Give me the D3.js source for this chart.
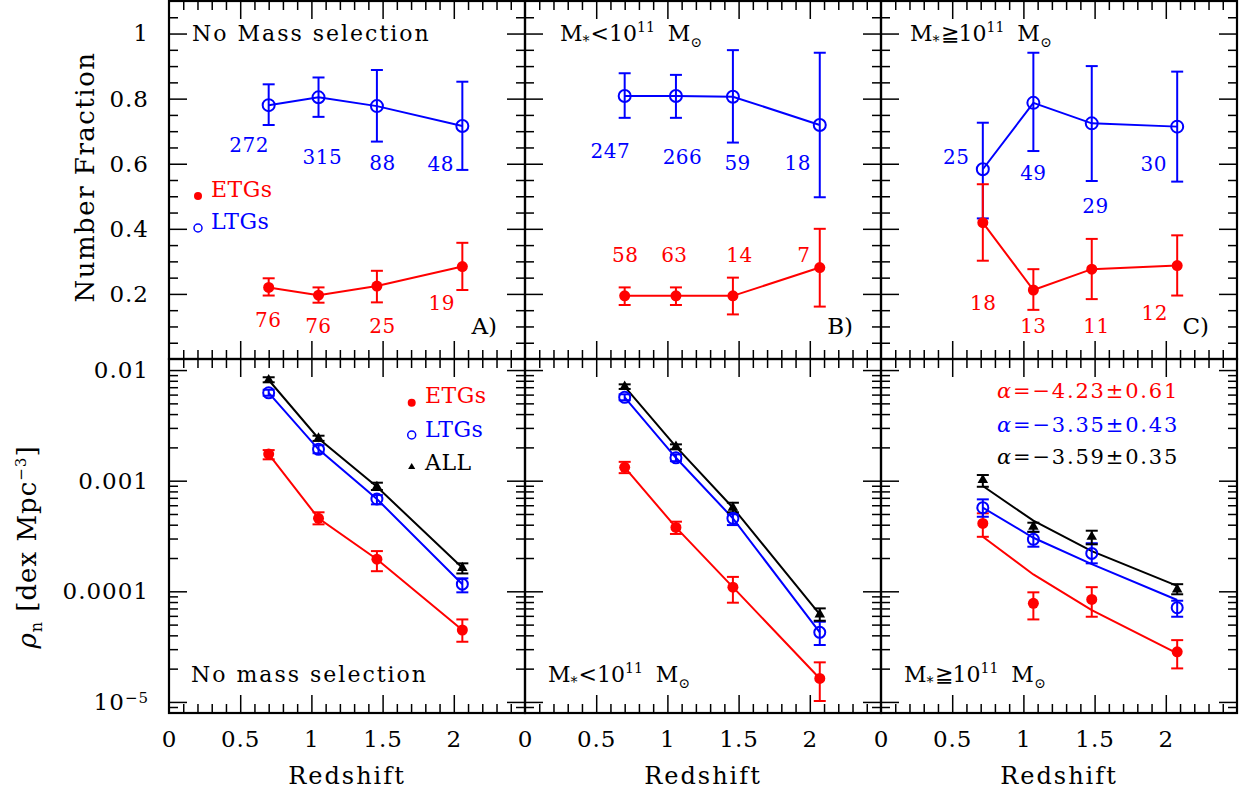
<!DOCTYPE html>
<html><head><meta charset="utf-8">
<script src="https://cdn.jsdelivr.net/npm/d3@7"></script>
<style>
body{margin:0;background:#fff;}
svg text{font-family:"DejaVu Serif","Liberation Serif",serif;fill:#000;}
</style></head><body>
<svg id="c" width="1240" height="794"></svg>
<script>
// ------------------------- DATA -------------------------
const zA = [0.70, 1.05, 1.46, 2.06];
const zB = [0.70, 1.06, 1.46, 2.07];
const zC = [0.715, 1.07, 1.48, 2.08];

// number fractions (top row)
const fracLtgA   = [0.780, 0.804, 0.777, 0.716];
const fracLtgLoA = [0.719, 0.744, 0.668, 0.581];
const fracLtgHiA = [0.844, 0.865, 0.888, 0.852];
const fracEtgA   = [0.220, 0.196, 0.224, 0.284];
const fracEtgLoA = [0.195, 0.173, 0.174, 0.212];
const fracEtgHiA = [0.248, 0.220, 0.271, 0.357];

const fracLtgB   = [0.808, 0.808, 0.806, 0.719];
const fracLtgLoB = [0.741, 0.741, 0.665, 0.497];
const fracLtgHiB = [0.878, 0.873, 0.949, 0.941];
const fracEtgB   = [0.194, 0.194, 0.194, 0.281];
const fracEtgLoB = [0.166, 0.166, 0.137, 0.161];
const fracEtgHiB = [0.220, 0.220, 0.250, 0.400];

const fracLtgC   = [0.583, 0.787, 0.724, 0.714];
const fracLtgLoC = [0.432, 0.639, 0.547, 0.545];
const fracLtgHiC = [0.726, 0.941, 0.900, 0.883];
const fracEtgC   = [0.419, 0.212, 0.276, 0.287];
const fracEtgLoC = [0.302, 0.151, 0.184, 0.195];
const fracEtgHiC = [0.537, 0.276, 0.369, 0.380];

// galaxy counts
const nLtgA = [272, 315, 88, 48];  const nEtgA = [76, 76, 25, 19];
const nLtgB = [247, 266, 59, 18];  const nEtgB = [58, 63, 14, 7];
const nLtgC = [25, 49, 29, 30];    const nEtgC = [18, 13, 11, 12];

// count-label anchors in data coordinates (redshift, fraction)
const nLtgAtA = [[0.563,0.657],[1.077,0.621],[1.500,0.602],[1.908,0.599]];
const nEtgAtA = [[0.697,0.120],[1.049,0.101],[1.500,0.101],[1.915,0.172]];
const nLtgAtB = [[0.599,0.639],[1.106,0.621],[1.493,0.602],[1.915,0.602]];
const nEtgAtB = [[0.704,0.320],[1.049,0.320],[1.507,0.320],[1.958,0.320]];
const nLtgAtC = [[0.528,0.621],[1.070,0.571],[1.507,0.470],[1.915,0.599]];
const nEtgAtC = [[0.718,0.172],[1.070,0.101],[1.514,0.101],[1.923,0.141]];

// number densities (bottom row), dex^-1 Mpc^-3
const rhoAllA   = [0.00813, 0.00241, 0.000881, 0.000163];
const rhoAllLoA = [0.00775, 0.00229, 0.000824, 0.000145];
const rhoAllHiA = [0.00861, 0.00255, 0.000959, 0.000179];
const rhoLtgA   = [0.00623, 0.00192, 0.000683, 0.000116];
const rhoLtgLoA = [0.00586, 0.00177, 0.000611, 0.0000979];
const rhoLtgHiA = [0.00664, 0.00209, 0.000741, 0.000131];
const rhoEtgA   = [0.00174, 0.000457, 0.000195, 0.0000447];
const rhoEtgLoA = [0.00156, 0.000403, 0.000152, 0.0000350];
const rhoEtgHiA = [0.00189, 0.000518, 0.000231, 0.0000557];

const rhoAllB   = [0.00708, 0.00203, 0.000570, 0.0000618];
const rhoAllLoB = [0.00675, 0.00192, 0.000518, 0.0000542];
const rhoAllHiB = [0.00743, 0.00213, 0.000632, 0.0000701];
const rhoLtgB   = [0.00567, 0.00161, 0.000457, 0.0000426];
const rhoLtgLoB = [0.00533, 0.00150, 0.000397, 0.0000327];
const rhoLtgHiB = [0.00604, 0.00173, 0.000497, 0.0000531];
const rhoEtgB   = [0.00132, 0.000378, 0.000109, 0.0000163];
const rhoEtgLoB = [0.00117, 0.000330, 0.0000789, 0.0000102];
const rhoEtgHiB = [0.00148, 0.000426, 0.000135, 0.0000228];

const rhoAllC   = [0.001014, 0.000384, 0.000311, 0.000104];
const rhoAllLoC = [0.000881, 0.000345, 0.000266, 0.0000940];
const rhoAllHiC = [0.001125, 0.000417, 0.000353, 0.000116];
const rhoLtgC   = [0.000570, 0.000295, 0.000220, 0.0000711];
const rhoLtgLoC = [0.000472, 0.000253, 0.000179, 0.0000589];
const rhoLtgHiC = [0.000678, 0.000345, 0.000272, 0.0000822];
const rhoEtgC   = [0.000411, 0.0000779, 0.0000845, 0.0000284];
const rhoEtgLoC = [0.000311, 0.0000557, 0.0000589, 0.0000201];
const rhoEtgHiC = [0.000507, 0.0000979, 0.000109, 0.0000362];
// power-law fit curves in panel C
const fitAllC = [0.000895, 0.000435, 0.000231, 0.000112];
const fitLtgC = [0.000570, 0.000305, 0.000176, 0.0000834];
const fitEtgC = [0.000311, 0.000142, 0.0000676, 0.0000275];

const alphaVal = ["−4.23", "−3.35", "−3.59"];
const alphaErr = ["0.61", "0.43", "0.35"];

const xTicks = [0, 0.5, 1, 1.5, 2];
const xTickLabels = ["0", "0.5", "1", "1.5", "2"];
const fracTicks = [0.2, 0.4, 0.6, 0.8, 1];
const fracTickLabels = ["0.2", "0.4", "0.6", "0.8", "1"];
const rhoTicks = [1e-2, 1e-3, 1e-4, 1e-5];
const rhoTickLabels = ["0.01", "0.001", "0.0001", "10^−5"];

const panelLetters = ["A)", "B)", "C)"];

// ------------------------- LAYOUT -------------------------
const RED = "#ff0000", BLUE = "#0000ff", BLACK = "#000000";
const svg = d3.select("#c");
const colX = [169, 525, 881], panelW = 356;
const topRow = [359, 1], botRow = [713, 359];

const columns = [
  {z: zA, fl: fracLtgA, flLo: fracLtgLoA, flHi: fracLtgHiA, fe: fracEtgA, feLo: fracEtgLoA, feHi: fracEtgHiA,
   nl: nLtgA, ne: nEtgA, nlAt: nLtgAtA, neAt: nEtgAtA,
   ra: rhoAllA, raLo: rhoAllLoA, raHi: rhoAllHiA, rl: rhoLtgA, rlLo: rhoLtgLoA, rlHi: rhoLtgHiA,
   re: rhoEtgA, reLo: rhoEtgLoA, reHi: rhoEtgHiA, la: rhoAllA, ll: rhoLtgA, le: rhoEtgA},
  {z: zB, fl: fracLtgB, flLo: fracLtgLoB, flHi: fracLtgHiB, fe: fracEtgB, feLo: fracEtgLoB, feHi: fracEtgHiB,
   nl: nLtgB, ne: nEtgB, nlAt: nLtgAtB, neAt: nEtgAtB,
   ra: rhoAllB, raLo: rhoAllLoB, raHi: rhoAllHiB, rl: rhoLtgB, rlLo: rhoLtgLoB, rlHi: rhoLtgHiB,
   re: rhoEtgB, reLo: rhoEtgLoB, reHi: rhoEtgHiB, la: rhoAllB, ll: rhoLtgB, le: rhoEtgB},
  {z: zC, fl: fracLtgC, flLo: fracLtgLoC, flHi: fracLtgHiC, fe: fracEtgC, feLo: fracEtgLoC, feHi: fracEtgHiC,
   nl: nLtgC, ne: nEtgC, nlAt: nLtgAtC, neAt: nEtgAtC,
   ra: rhoAllC, raLo: rhoAllLoC, raHi: rhoAllHiC, rl: rhoLtgC, rlLo: rhoLtgLoC, rlHi: rhoLtgHiC,
   re: rhoEtgC, reLo: rhoEtgLoC, reHi: rhoEtgHiC, la: fitAllC, ll: fitLtgC, le: fitEtgC}
];

const xMinor = d3.range(1, 25).map(i => +(i * 0.1).toFixed(2)).filter(v => Math.abs(v * 2 - Math.round(v * 2)) > 1e-6);
const xMajor = [0.5, 1, 1.5, 2];
const fMinor = d3.range(1, 22).map(i => +(i * 0.05).toFixed(3)).filter(v => Math.abs(v * 5 - Math.round(v * 5)) > 1e-6);
const rMinor = [];
for (let k = -6; k <= -2; k++) for (let m = 2; m <= 9; m++) { const v = m * Math.pow(10, k); if (v > Math.pow(10, -5.1) && v < Math.pow(10, -1.9)) rMinor.push(v); }

const MINOR = 9, MAJOR = 18, TICKW = 1.5;

function styleAxis(a) {
  a.select(".domain").remove();
  a.attr("font-size", null).attr("font-family", null);
  a.selectAll("line").attr("stroke", "#000").attr("stroke-width", TICKW);
  a.selectAll("text").style("font-size", "23px").style("letter-spacing", "1px").attr("fill", "#000");
  return a;
}

function drawAxes(g, x, y, yMajor, yMinor, showX, yLabelFn) {
  const [x0, x1] = x.range(), [yb, yt] = y.range();
  // bottom
  styleAxis(g.append("g").attr("transform", `translate(0,${yb})`)
    .call(d3.axisBottom(x).tickValues(xMinor).tickSize(-MINOR).tickFormat("")));
  const bm = styleAxis(g.append("g").attr("transform", `translate(0,${yb})`)
    .call(d3.axisBottom(x).tickValues(showX ? xTicks : xMajor).tickSize(-MAJOR).tickPadding(18)
      .tickFormat(showX ? (d => xTickLabels[xTicks.indexOf(d)]) : "")));
  if (showX) bm.selectAll("line").filter(d => d === 0).remove();
  // top
  styleAxis(g.append("g").attr("transform", `translate(0,${yt})`)
    .call(d3.axisTop(x).tickValues(xMinor).tickSize(-MINOR).tickFormat("")));
  styleAxis(g.append("g").attr("transform", `translate(0,${yt})`)
    .call(d3.axisTop(x).tickValues(xMajor).tickSize(-MAJOR).tickFormat("")));
  // left
  styleAxis(g.append("g").attr("transform", `translate(${x0},0)`)
    .call(d3.axisLeft(y).tickValues(yMinor).tickSize(-MINOR).tickFormat("")));
  const lm = styleAxis(g.append("g").attr("transform", `translate(${x0},0)`)
    .call(d3.axisLeft(y).tickValues(yMajor).tickSize(-MAJOR).tickPadding(20)
      .tickFormat(yLabelFn ? yLabelFn : "")));
  // right
  styleAxis(g.append("g").attr("transform", `translate(${x1},0)`)
    .call(d3.axisRight(y).tickValues(yMinor).tickSize(-MINOR).tickFormat("")));
  styleAxis(g.append("g").attr("transform", `translate(${x1},0)`)
    .call(d3.axisRight(y).tickValues(yMajor).tickSize(-MAJOR).tickFormat("")));
  return lm;
}

function errorBars(g, x, y, z, lo, hi, color) {
  const cap = 6;
  z.forEach((zz, i) => {
    const cx = x(zz);
    g.append("line").attr("x1", cx).attr("x2", cx).attr("y1", y(lo[i])).attr("y2", y(hi[i]))
      .attr("stroke", color).attr("stroke-width", 2);
    [lo[i], hi[i]].forEach(v => g.append("line").attr("x1", cx - cap).attr("x2", cx + cap)
      .attr("y1", y(v)).attr("y2", y(v)).attr("stroke", color).attr("stroke-width", 2));
  });
}
function polyline(g, x, y, z, vals, color) {
  g.append("path").attr("d", d3.line().x((d, i) => x(z[i])).y(d => y(d))(vals))
    .attr("fill", "none").attr("stroke", color).attr("stroke-width", 2);
}
function filledDots(g, x, y, z, vals, r) {
  g.selectAll(null).data(vals).join("circle").attr("cx", (d, i) => x(z[i])).attr("cy", d => y(d))
    .attr("r", r).attr("fill", RED);
}
function openDots(g, x, y, z, vals, r) {
  g.selectAll(null).data(vals).join("circle").attr("cx", (d, i) => x(z[i])).attr("cy", d => y(d))
    .attr("r", r).attr("fill", "none").attr("stroke", BLUE).attr("stroke-width", 2);
}
function triangles(g, x, y, z, vals, size) {
  g.selectAll(null).data(vals).join("path").attr("d", d3.symbol(d3.symbolTriangle, size))
    .attr("transform", (d, i) => `translate(${x(z[i])},${y(d)})`).attr("fill", BLACK);
}

function massTitle(g, x, yBase, sym) {
  const t = g.append("text").attr("x", x).attr("y", yBase).style("font-size", "22px");
  t.append("tspan").text("M");
  t.append("tspan").text("*").attr("dy", 5).style("font-size", "14px");
  t.append("tspan").text(sym).attr("dy", -5).attr("dx", 1).style("font-size", "22px");
  t.append("tspan").text("10");
  t.append("tspan").text("11").attr("dy", -9).style("font-size", "14px");
  t.append("tspan").text("M").attr("dy", 9).attr("dx", 13).style("font-size", "22px");
  t.append("tspan").text("⊙").attr("dy", 6).style("font-size", "14px");
}

columns.forEach((c, ci) => {
  const x = d3.scaleLinear().domain([0, 2.5]).range([colX[ci], colX[ci] + panelW]);
  const yF = d3.scaleLinear().domain([0, 1.1]).range(topRow);
  const yR = d3.scaleLog().domain([Math.pow(10, -5.1), Math.pow(10, -1.9)]).range(botRow);
  const x0 = colX[ci], x1 = colX[ci] + panelW;

  // ---------- top panel ----------
  const gt = svg.append("g");
  drawAxes(gt, x, yF, fracTicks, fMinor, false,
    ci === 0 ? (d => fracTickLabels[fracTicks.indexOf(d)]) : null);
  polyline(gt, x, yF, c.z, c.fl, BLUE);
  polyline(gt, x, yF, c.z, c.fe, RED);
  errorBars(gt, x, yF, c.z, c.flLo, c.flHi, BLUE);
  errorBars(gt, x, yF, c.z, c.feLo, c.feHi, RED);
  openDots(gt, x, yF, c.z, c.fl, 6);
  filledDots(gt, x, yF, c.z, c.fe, 5.5);
  c.nl.forEach((n, i) => gt.append("text").attr("x", x(c.nlAt[i][0])).attr("y", yF(c.nlAt[i][1]) + 7.3)
    .attr("text-anchor", "middle").style("font-size", "20px").style("letter-spacing", "0.5px")
    .attr("fill", BLUE).style("fill", BLUE).text(n));
  c.ne.forEach((n, i) => gt.append("text").attr("x", x(c.neAt[i][0])).attr("y", yF(c.neAt[i][1]) + 7.3)
    .attr("text-anchor", "middle").style("font-size", "20px").style("letter-spacing", "0.5px")
    .style("fill", RED).text(n));
  gt.append("text").attr("x", x1 - 28).attr("y", 334).attr("text-anchor", "end")
    .style("font-size", "23px").text(panelLetters[ci]);

  // ---------- bottom panel ----------
  const gb = svg.append("g");
  const lm = drawAxes(gb, x, yR, rhoTicks, rMinor, true,
    ci === 0 ? (d => rhoTickLabels[rhoTicks.indexOf(d)]) : null);
  if (ci === 0) {
    lm.selectAll("text").each(function (d) {
      const s = rhoTickLabels[rhoTicks.indexOf(d)];
      if (s.indexOf("^") >= 0) {
        const [b, e] = s.split("^");
        const t = d3.select(this).text(null);
        t.append("tspan").text(b);
        t.append("tspan").text(e).attr("dy", "-0.45em").style("font-size", "15px");
      }
    });
  }
  polyline(gb, x, yR, c.z, c.le, RED);
  polyline(gb, x, yR, c.z, c.ll, BLUE);
  polyline(gb, x, yR, c.z, c.la, BLACK);
  errorBars(gb, x, yR, c.z, c.reLo, c.reHi, RED);
  errorBars(gb, x, yR, c.z, c.rlLo, c.rlHi, BLUE);
  errorBars(gb, x, yR, c.z, c.raLo, c.raHi, BLACK);
  filledDots(gb, x, yR, c.z, c.re, 5.5);
  openDots(gb, x, yR, c.z, c.rl, 5.5);
  triangles(gb, x, yR, c.z, c.ra, 48);

  // frames
  [[topRow[1], topRow[0]], [botRow[1], botRow[0]]].forEach(([ya, yb]) =>
    svg.append("rect").attr("x", x0).attr("y", ya).attr("width", panelW).attr("height", yb - ya)
      .attr("fill", "none").attr("stroke", "#000").attr("stroke-width", 2.2));
});

// ---------- titles ----------
svg.append("text").attr("x", 192).attr("y", 41).style("font-size", "22px").style("letter-spacing", "2px")
  .text("No Mass selection");
massTitle(svg, 560, 41, "<");
massTitle(svg, 910, 41, "≧");
svg.append("text").attr("x", 191).attr("y", 682).style("font-size", "22px").style("letter-spacing", "2px")
  .text("No mass selection");
massTitle(svg, 548, 682, "<");
massTitle(svg, 904, 682, "≧");

// ---------- legends ----------
svg.append("circle").attr("cx", 198).attr("cy", 196).attr("r", 4).attr("fill", RED);
svg.append("text").attr("x", 211).attr("y", 197).style("font-size", "22px").style("letter-spacing", "0.5px").style("fill", RED).text("ETGs");
svg.append("circle").attr("cx", 198).attr("cy", 228).attr("r", 4).attr("fill", "none").attr("stroke", BLUE).attr("stroke-width", 1.5);
svg.append("text").attr("x", 211).attr("y", 229).style("font-size", "22px").style("letter-spacing", "0.5px").style("fill", BLUE).text("LTGs");

svg.append("circle").attr("cx", 411.7).attr("cy", 402.7).attr("r", 4).attr("fill", RED);
svg.append("text").attr("x", 425).attr("y", 403).style("font-size", "22px").style("letter-spacing", "0.5px").style("fill", RED).text("ETGs");
svg.append("circle").attr("cx", 411.7).attr("cy", 435).attr("r", 4).attr("fill", "none").attr("stroke", BLUE).attr("stroke-width", 1.5);
svg.append("text").attr("x", 425).attr("y", 437).style("font-size", "22px").style("letter-spacing", "0.5px").style("fill", BLUE).text("LTGs");
svg.append("path").attr("d", d3.symbol(d3.symbolTriangle, 22)).attr("transform", "translate(411.7,467)").attr("fill", BLACK);
svg.append("text").attr("x", 425).attr("y", 470).style("font-size", "22px").style("letter-spacing", "0.5px").text("ALL");

// alpha fit values
[RED, BLUE, BLACK].forEach((col, i) => {
  const t = svg.append("text").attr("x", 997).attr("y", [398, 432, 464][i])
    .style("font-size", "21px").style("letter-spacing", "1.8px").style("fill", col);
  t.append("tspan").text("α").style("font-style", "italic");
  t.append("tspan").text("=" + alphaVal[i] + "±" + alphaErr[i]);
});

// ---------- axis titles ----------
["Redshift", "Redshift", "Redshift"].forEach((s, i) =>
  svg.append("text").attr("x", colX[i] + panelW / 2).attr("y", 784).attr("text-anchor", "middle")
    .style("font-size", "24px").style("letter-spacing", "2px").text(s));
svg.append("text").attr("transform", "translate(94,177) rotate(-90)").attr("text-anchor", "middle")
  .style("font-size", "26px").style("letter-spacing", "1.5px").text("Number Fraction");
const rl = svg.append("text").attr("transform", "translate(36,547) rotate(-90)").attr("text-anchor", "middle")
  .style("font-size", "26px").style("letter-spacing", "1px");
rl.append("tspan").text("ρ").style("font-style", "italic");
rl.append("tspan").text("n").attr("dy", 6).style("font-size", "16px");
rl.append("tspan").text(" [dex Mpc").attr("dy", -6);
rl.append("tspan").text("−3").attr("dy", -10).style("font-size", "15px");
rl.append("tspan").text("]").attr("dy", 10);
</script>
</body></html>
